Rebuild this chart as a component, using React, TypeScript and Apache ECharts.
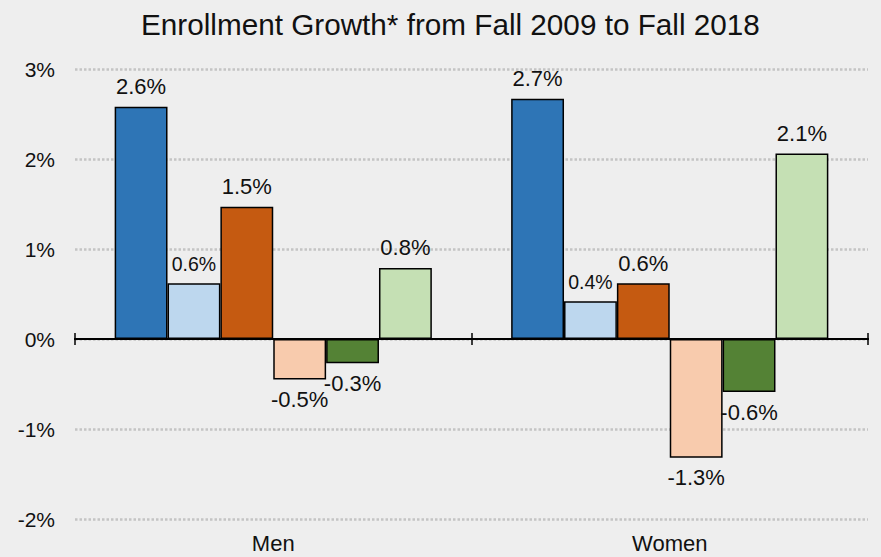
import React, { useEffect, useRef } from "react";
import * as echarts from "echarts";

const categories = ["Men", "Women"];
const seriesNames = ["Group 1", "Group 2", "Group 3", "Group 4", "Group 5", "Group 6"];
const group1 = [2.58, 2.67];
const group2 = [0.62, 0.42];
const group3 = [1.47, 0.62];
const group4 = [-0.45, -1.32];
const group5 = [-0.27, -0.59];
const group6 = [0.79, 2.06];
const seriesValues = [group1, group2, group3, group4, group5, group6];
const colors = ["#2e75b6", "#bdd7ee", "#c55a11", "#f8cbad", "#548235", "#c5e0b4"];
const yTicks = [-2, -1, 0, 1, 2, 3];

const FONT = "'Liberation Sans', Arial, Helvetica, sans-serif";

export default function App() {
  const ref = useRef<HTMLDivElement>(null);
  useEffect(() => {
    if (!ref.current) return;
    const chart = echarts.init(ref.current, null, { renderer: "svg" });
    const smallLabels: Record<number, number[]> = { 1: [0, 1] };
    const option: any = {
      animation: false,
      backgroundColor: "#eeeeee",
      textStyle: { fontFamily: FONT },
      title: {
        text: "Enrollment Growth* from Fall 2009 to Fall 2018",
        left: 136,
        top: 4,
        textStyle: { fontFamily: FONT, fontSize: 29.7, fontWeight: "normal", color: "#111" },
      },
      grid: { left: 75, right: 13, top: 69, bottom: 38 },
      xAxis: [
        {
          type: "category",
          data: categories,
          position: "bottom",
          axisLine: { show: true, onZero: true, onZeroAxisIndex: 0, lineStyle: { color: "#000", width: 2 } },
          axisTick: { show: true, length: 6, lineStyle: { color: "#000", width: 1.5 } },
          axisLabel: { show: false },
          splitLine: { show: false },
        },
        {
          type: "category",
          data: categories,
          position: "top",
          axisLine: { show: true, onZero: true, onZeroAxisIndex: 0, lineStyle: { color: "#000", width: 2 } },
          axisTick: { show: true, length: 6, lineStyle: { color: "#000", width: 1.5 } },
          axisLabel: { show: false },
          splitLine: { show: false },
        },
        {
          type: "category",
          data: categories,
          position: "bottom",
          axisLine: { show: false, onZero: false },
          axisTick: { show: false },
          axisLabel: { show: true, fontSize: 22, color: "#111", margin: 13, fontFamily: FONT },
          splitLine: { show: false },
        },
      ],
      yAxis: {
        type: "value",
        min: yTicks[0],
        max: yTicks[yTicks.length - 1],
        interval: 1,
        axisLine: { show: false },
        axisTick: { show: false },
        axisLabel: { formatter: "{value}%", fontSize: 21, color: "#111", margin: 20, fontFamily: FONT },
        splitLine: { lineStyle: { color: "#c4c4c4", width: 2.5, type: [2.5, 2] } },
      },
      series: seriesValues.map((vals, si) => ({
        name: seriesNames[si],
        type: "bar",
        xAxisIndex: 0,
        barGap: "0%",
        barCategoryGap: "20%",
        data: vals.map((v, ci) =>
          smallLabels[si] && smallLabels[si].includes(ci)
            ? { value: v, label: { fontSize: 19.5 } }
            : v
        ),
        itemStyle: { color: colors[si], borderColor: "#000", borderWidth: 1.5 },
        label: {
          show: true,
          position: "outside",
          distance: 9,
          fontSize: 22,
          color: "#111",
          fontFamily: FONT,
          formatter: (p: any) => p.value.toFixed(1) + "%",
        },
      })),
    };
    chart.setOption(option);
    return () => chart.dispose();
  }, []);
  return (
    <div
      ref={ref}
      style={{ position: "fixed", left: 0, top: 0, width: 881, height: 557, background: "#eeeeee" }}
    />
  );
}
